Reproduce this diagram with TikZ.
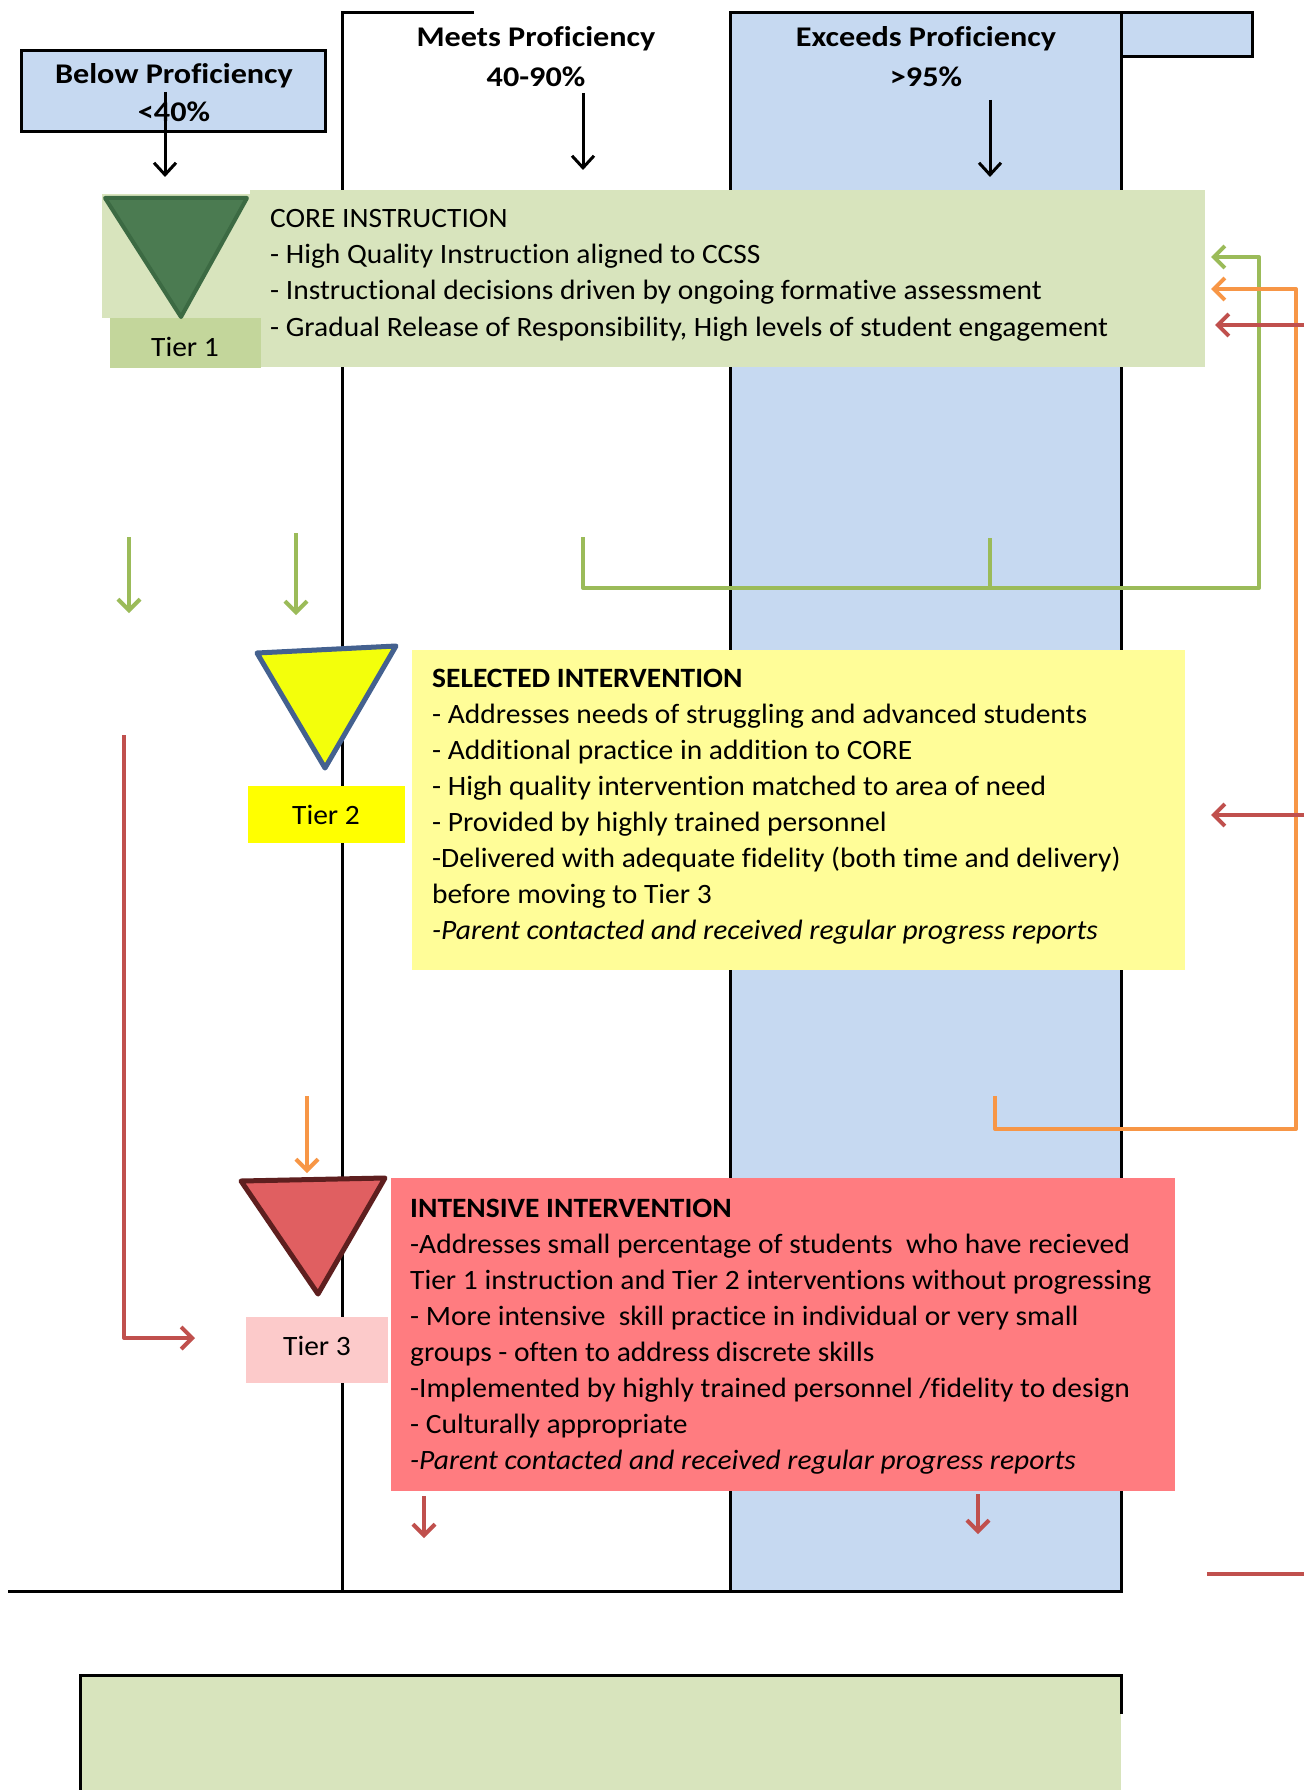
\documentclass[tikz,border=0pt]{standalone}
\usepackage{fontspec}
\setmainfont{Carlito}[FakeStretch=1.053, Ligatures=NoCommon]
\newfontfamily\hdrfont{Carlito}[FakeStretch=1.13, Ligatures=NoCommon]
\usetikzlibrary{arrows.meta}
\definecolor{cblue}{HTML}{C6D9F1}
\definecolor{ccore}{HTML}{D8E4BD}
\definecolor{ctierone}{HTML}{C3D69B}
\definecolor{ctrione}{HTML}{4B7B51}
\definecolor{ctrionedraw}{HTML}{3C6A43}
\definecolor{ctritwo}{HTML}{F3FF0B}
\definecolor{ctritwodraw}{HTML}{44618F}
\definecolor{ctiertwo}{HTML}{FFFF00}
\definecolor{csel}{HTML}{FFFD98}
\definecolor{ctrithree}{HTML}{E05F61}
\definecolor{ctrithreedraw}{HTML}{5E1F1F}
\definecolor{ctierthree}{HTML}{FCCACA}
\definecolor{cint}{HTML}{FF7C80}
\definecolor{cgreen}{HTML}{9BBB59}
\definecolor{corange}{HTML}{F79646}
\definecolor{cred}{HTML}{C0504D}
\begin{document}
\begin{tikzpicture}[x=1pt,y=-1pt,
  boxnode/.style={anchor=north west, inner sep=0pt, outer sep=0pt},
  body/.style={anchor=base west, inner sep=0pt, font=\fontsize{28}{32}\selectfont},
  bodyc/.style={anchor=base, inner sep=0pt, font=\fontsize{28}{32}\selectfont},
  hdr/.style={anchor=base, inner sep=0pt, font=\hdrfont\bfseries\fontsize{28.5}{32}\selectfont},
  colline/.style={draw=black, line width=3pt},
  blackarrow/.style={draw=black, line width=3pt, -{Straight Barb[length=12pt,width=22pt]}},
  garrow/.style={draw=cgreen, line width=4pt, -{Straight Barb[length=11pt,width=22pt]}},
  gline/.style={draw=cgreen, line width=4pt},
  oarrow/.style={draw=corange, line width=4pt, -{Straight Barb[length=11pt,width=22pt]}},
  rarrow/.style={draw=cred, line width=4pt, -{Straight Barb[length=11pt,width=22pt]}},
  rline/.style={draw=cred, line width=4pt}
]
\useasboundingbox (0,0) rectangle (1304,1790);
\fill[white] (0,0) rectangle (1304,1790);

% columns
\path[fill=cblue, colline] (730.5,13) rectangle (1121,1591);
\path[fill=cblue, colline] (1121,13) rectangle (1252,57);
\draw[colline] (474,13) -- (342,13) -- (342,1591);
\draw[colline] (8,1591) -- (1121,1591);

% bottom box
\fill[ccore] (80,1675) rectangle (1121,1790);
\draw[colline] (80,1790) -- (80,1675) -- (1121,1675) -- (1121,1714);

% headers
\node[boxnode, fill=cblue, draw=black, line width=3pt, minimum width=304pt, minimum height=81pt] (below) at (21,51) {};
\node[hdr] (belowt) at (174,84) {Below Proficiency};
\node[hdr] (belowp) at (174,122) {<40\%};
\node[hdr] (meetst) at (536,47) {Meets Proficiency};
\node[hdr] (meetsp) at (536,87) {40-90\%};
\node[hdr] (exct) at (926,47) {Exceeds Proficiency};
\node[hdr] (excp) at (926,87) {>95\%};
\coordinate (bA) at (165,92); \coordinate (bB) at (165,177);
\coordinate (mA) at (583,93); \coordinate (mB) at (583,170);
\coordinate (eA) at (990,100); \coordinate (eB) at (990,177);
\draw[blackarrow] (bA) -- (bB);
\draw[blackarrow] (mA) -- (mB);
\draw[blackarrow] (eA) -- (eB);

% core
\node[boxnode, fill=ccore, minimum width=148pt, minimum height=124pt] (t1bg) at (102,194) {};
\node[boxnode, fill=ccore, minimum width=955pt, minimum height=177pt] (core) at (250,190) {};
\node[boxnode, fill=ctierone, minimum width=151pt, minimum height=50pt] (tier1) at (110,318) {};
\node[bodyc] (tier1t) at (185,356) {Tier 1};
\draw[fill=ctrione, draw=ctrionedraw, line width=4pt, line join=round] (105,198) -- (247,198) -- (181,317) -- cycle;
\node[body] (c1) at (270,227) {CORE INSTRUCTION};
\node[body] (c2) at (270,263) {- High Quality Instruction aligned to CCSS};
\node[body] (c3) at (270,299.5) {- Instructional decisions driven by ongoing formative assessment};
\node[body] (c4) at (270,336) {- Gradual Release of Responsibility, High levels of student engagement};

% selected
\node[boxnode, fill=ctiertwo, minimum width=157pt, minimum height=57pt] (tier2) at (248,786) {};
\node[bodyc] (tier2t) at (326,824) {Tier 2};
\draw[fill=ctritwo, draw=ctritwodraw, line width=5pt, line join=round] (257,653) -- (396,646) -- (325,768) -- cycle;
\node[boxnode, fill=csel, minimum width=773pt, minimum height=320pt] (sel) at (412,650) {};
\node[body, font=\bfseries\fontsize{28}{32}\selectfont] (s1) at (432,687) {SELECTED INTERVENTION};
\node[body] (s2) at (432,723) {- Addresses needs of struggling and advanced students};
\node[body] (s3) at (432,759) {- Additional practice in addition to CORE};
\node[body] (s4) at (432,795) {- High quality intervention matched to area of need};
\node[body] (s5) at (432,831) {- Provided by highly trained personnel};
\node[body] (s6) at (432,867) {-Delivered with adequate fidelity (both time and delivery)};
\node[body] (s7) at (432,903) {before moving to Tier 3};
\node[body, font=\itshape\fontsize{28}{32}\selectfont] (s8) at (432,939) {-Parent contacted and received regular progress reports};

% intensive
\node[boxnode, fill=ctierthree, minimum width=142pt, minimum height=66pt] (tier3) at (246,1317) {};
\node[bodyc] (tier3t) at (317,1355) {Tier 3};
\draw[fill=ctrithree, draw=ctrithreedraw, line width=5pt, line join=round] (241,1181) -- (385,1178) -- (318,1294) -- cycle;
\node[boxnode, fill=cint, minimum width=784pt, minimum height=313pt] (int) at (391,1178) {};
\node[body, font=\bfseries\fontsize{28}{32}\selectfont] (i1) at (410,1217) {INTENSIVE INTERVENTION};
\node[body] (i2) at (410,1253) {-Addresses small percentage of students\ \ who have recieved};
\node[body] (i3) at (410,1289) {Tier 1 instruction and Tier 2 interventions without progressing};
\node[body] (i4) at (410,1325) {- More intensive\ \ skill practice in individual or very small};
\node[body] (i5) at (410,1361) {groups - often to address discrete skills};
\node[body] (i6) at (410,1397) {-Implemented\ by highly trained\ personnel /fidelity to design};
\node[body] (i7) at (410,1433) {- Culturally appropriate};
\node[body, font=\itshape\fontsize{28}{32}\selectfont] (i8) at (410,1469) {-Parent contacted and received regular progress reports};

% green connectors
\coordinate (g1a) at (129,537); \coordinate (g1b) at (129,613);
\coordinate (g2a) at (296,533); \coordinate (g2b) at (296,615);
\draw[garrow] (g1a) -- (g1b);
\draw[garrow] (g2a) -- (g2b);
\coordinate (gA) at (583,537);
\coordinate (gB) at (1259,588);
\coordinate (gT) at (1211,257);
\coordinate (gTick) at (990,538);
\draw[garrow, line join=round] (gA) |- (gB) |- (gT);
\draw[gline] (gTick) -- (gTick |- gB);

% orange connectors
\coordinate (oA) at (995,1096);
\coordinate (oB) at (1296,1129);
\coordinate (oT) at (1211,289);
\draw[oarrow, line join=round] (oA) |- (oB) |- (oT);
\coordinate (o2a) at (307,1096); \coordinate (o2b) at (307,1173);
\draw[oarrow] (o2a) -- (o2b);

% red connectors
\coordinate (rA) at (1304,325); \coordinate (rT) at (1215,325);
\draw[rarrow] (rA) -- (rT);
\coordinate (r2A) at (1304,815); \coordinate (r2T) at (1211,815);
\draw[rarrow] (r2A) -- (r2T);
\coordinate (rLA) at (124,735); \coordinate (rLT) at (195,1338);
\draw[rarrow, line join=round] (rLA) |- (rLT);
\coordinate (r3a) at (424,1496); \coordinate (r3b) at (424,1538);
\draw[rarrow] (r3a) -- (r3b);
\coordinate (r4a) at (978,1494); \coordinate (r4b) at (978,1534);
\draw[rarrow] (r4a) -- (r4b);
\coordinate (r5a) at (1207,1574); \coordinate (r5b) at (1304,1574);
\draw[rline] (r5a) -- (r5b);
\end{tikzpicture}
\end{document}
